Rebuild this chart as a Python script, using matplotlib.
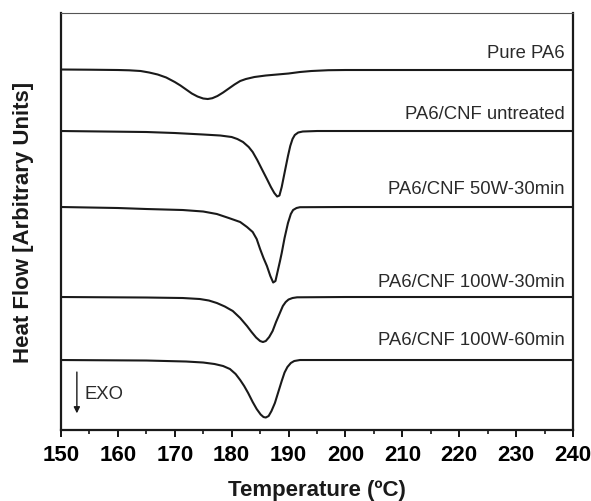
import numpy as np
import matplotlib.pyplot as plt
from matplotlib.ticker import MultipleLocator

plt.rcParams['font.family'] = ['Liberation Sans', 'DejaVu Sans']

# heat flow (arbitrary units, curves already offset)
t_pa6 = [150, 155, 160, 162, 164, 165.5, 167, 168.5, 170, 171, 172, 173, 174, 175,
         175.8, 176.6, 177.5, 178.5, 179.5, 180.5, 181.5, 182.5, 184, 186, 188, 190,
         192, 194, 197, 200, 240]
hf_pa6 = [3.605, 3.603, 3.60, 3.597, 3.59, 3.575, 3.555, 3.525, 3.48, 3.445, 3.405,
          3.365, 3.335, 3.315, 3.31, 3.318, 3.34, 3.375, 3.415, 3.455, 3.49, 3.51,
          3.53, 3.545, 3.555, 3.565, 3.58, 3.59, 3.598, 3.60, 3.60]

t_untr = [150, 165, 170, 175, 178, 180, 181, 182, 183, 183.7, 184.5, 185.3, 186.2,
          186.9, 187.5, 188, 188.4, 188.8, 189.4, 189.9, 190.3, 190.7, 191.1, 191.7,
          192.5, 195, 240]
hf_untr = [2.99, 2.98, 2.97, 2.955, 2.945, 2.93, 2.91, 2.88, 2.83, 2.78, 2.70, 2.61,
           2.51, 2.43, 2.37, 2.335, 2.345, 2.43, 2.60, 2.74, 2.84, 2.91, 2.95, 2.975,
           2.985, 2.99, 2.99]

t_50w30 = [150, 160, 165, 171.4, 175, 177.4, 179.5, 181.5, 182.7, 183.7, 184.4, 185,
           185.6, 186.2, 186.8, 187.3, 187.7, 188.1, 188.5, 188.8, 189.3, 189.9, 190.4,
           190.8, 191.4, 192, 200, 240]
hf_50w30 = [2.23, 2.22, 2.21, 2.20, 2.185, 2.16, 2.12, 2.08, 2.03, 1.98, 1.91, 1.81,
            1.72, 1.64, 1.54, 1.475, 1.49, 1.59, 1.69, 1.77, 1.92, 2.07, 2.16, 2.20,
            2.22, 2.228, 2.23, 2.23]

t_100w30 = [150, 165, 171.4, 174.4, 176, 177.4, 178.8, 180.2, 181.5, 182.7, 183.5,
            184.3, 185, 185.5, 186, 186.6, 187.2, 187.8, 188.4, 189, 189.5, 190, 190.7,
            191.5, 200, 240]
hf_100w30 = [1.33, 1.325, 1.32, 1.31, 1.295, 1.27, 1.235, 1.19, 1.12, 1.04, 0.98,
             0.925, 0.89, 0.88, 0.89, 0.93, 0.99, 1.08, 1.16, 1.24, 1.28, 1.305, 1.32,
             1.327, 1.33, 1.33]

t_100w60 = [150, 165, 172, 175, 177, 178.5, 179.7, 180.7, 181.5, 182.2, 182.9, 183.7,
            184.4, 185.1, 185.6, 186, 186.5, 187, 187.6, 188.2, 188.8, 189.3, 189.8,
            190.4, 191, 192, 240]
hf_100w60 = [0.70, 0.695, 0.685, 0.675, 0.66, 0.64, 0.61, 0.56, 0.50, 0.44, 0.37,
             0.28, 0.21, 0.155, 0.13, 0.125, 0.14, 0.19, 0.27, 0.38, 0.49, 0.575, 0.63,
             0.67, 0.69, 0.70, 0.70]

curves = [(t_pa6, hf_pa6), (t_untr, hf_untr), (t_50w30, hf_50w30),
          (t_100w30, hf_100w30), (t_100w60, hf_100w60)]
names = ['Pure PA6', 'PA6/CNF untreated', 'PA6/CNF 50W-30min',
         'PA6/CNF 100W-30min', 'PA6/CNF 100W-60min']
label_y = [0.906, 0.758, 0.580, 0.357, 0.216]

fig = plt.figure(figsize=(5.91, 5.02), dpi=100)
ax = fig.add_axes([0.1032, 0.1414, 0.8663, 0.8307])

for (t, hf) in curves:
    ax.plot(t, hf, color='#1a1a1a', lw=1.5, solid_joinstyle='round')

for name, yy in zip(names, label_y):
    ax.text(0.984, yy, name, transform=ax.transAxes, ha='right', va='center',
            fontsize=13.3, color='#2a2a2a')

# EXO arrow
ax.annotate('', xy=(0.031, 0.04), xytext=(0.031, 0.139), xycoords='axes fraction',
            arrowprops=dict(arrowstyle='-|>', color='#1a1a1a', lw=1.0,
                            mutation_scale=9, shrinkA=0, shrinkB=0))
ax.text(0.046, 0.087, 'EXO', transform=ax.transAxes, ha='left', va='center',
        fontsize=13.3, color='#2a2a2a')

ax.set_xlim(150, 240)
ax.set_ylim(0, 4.17)
ax.xaxis.set_major_locator(MultipleLocator(10))
ax.xaxis.set_minor_locator(MultipleLocator(5))
ax.set_yticks([])
ax.tick_params(axis='x', which='major', direction='out', length=5, width=1.3,
               labelsize=16, pad=5)
ax.tick_params(axis='x', which='minor', direction='out', length=3, width=1.1)
for lab in ax.get_xticklabels():
    lab.set_fontweight('bold')

for s in ['left', 'right', 'bottom']:
    ax.spines[s].set_linewidth(1.6)
    ax.spines[s].set_color('#1a1a1a')
ax.spines['top'].set_linewidth(0.8)
ax.spines['top'].set_color('#555555')

fig.text(316.5 / 591, 1 - 491 / 502, 'Temperature (ºC)', fontsize=16,
         fontweight='bold', ha='center', va='center', color='#1a1a1a')
fig.text(24 / 591, 1 - 222 / 502, 'Heat Flow [Arbitrary Units]', fontsize=16,
         fontweight='bold', ha='center', va='center', rotation=90, color='#1a1a1a')

fig.savefig('out.png', dpi=100)
